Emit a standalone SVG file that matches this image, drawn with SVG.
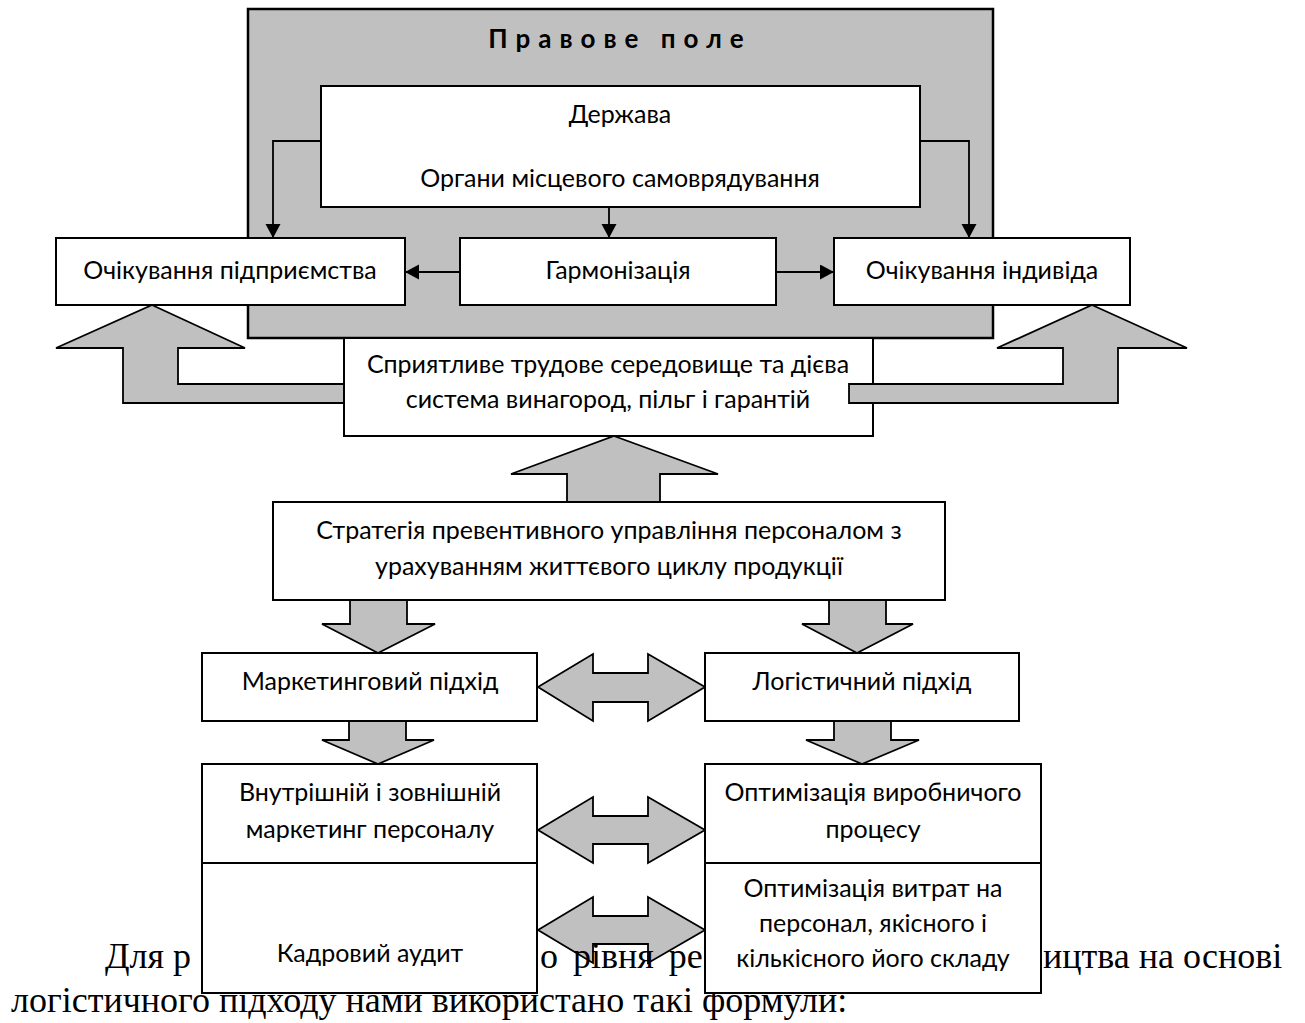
<svg xmlns="http://www.w3.org/2000/svg" width="1305" height="1023" viewBox="0 0 1305 1023">
<style>
.bg{fill:#ffffff}
.field{fill:#c0c0c0;stroke:#000;stroke-width:2.5}
.box{fill:#fff;stroke:#000;stroke-width:2}
.big{fill:#c0c0c0;stroke:#000;stroke-width:1.8;stroke-linejoin:miter}
.con{fill:none;stroke:#000;stroke-width:1.8}
.t{font-family:Lato,"Liberation Sans",sans-serif;font-size:25px;fill:#000;text-anchor:middle}
.title{font-family:Lato,"Liberation Sans",sans-serif;font-size:26px;font-weight:bold;letter-spacing:8px;fill:#000;text-anchor:middle}
.p{font-family:"Liberation Serif","Times New Roman",serif;font-size:36px;fill:#000}
</style>
<defs>
<marker id="ah" markerUnits="userSpaceOnUse" markerWidth="16" markerHeight="16" refX="14" refY="7.5" orient="auto">
<path d="M0,0 L14,7.5 L0,15 z" fill="#000"/>
</marker>
</defs>
<rect class="bg" x="0" y="0" width="1305" height="1023"/>

<g id="pravove-pole">
<rect class="field" x="248" y="9" width="745" height="329"/>
<text class="title" x="620" y="48">Правове поле</text>
</g>

<g id="derzhava">
<rect class="box" x="321" y="86" width="599" height="121"/>
<text class="t" x="620" y="123">Держава</text>
<text class="t" x="620" y="187">Органи місцевого самоврядування</text>
</g>

<g id="ochikuvannia-pidpryiemstva">
<rect class="box" x="56" y="238" width="349" height="67"/>
<text class="t" x="230" y="279">Очікування підприємства</text>
</g>

<g id="harmonizatsiia">
<rect class="box" x="460" y="238" width="316" height="67"/>
<text class="t" x="618" y="279">Гармонізація</text>
</g>

<g id="ochikuvannia-indyvida">
<rect class="box" x="834" y="238" width="296" height="67"/>
<text class="t" x="982" y="279">Очікування індивіда</text>
</g>

<g id="connectors">
<polyline class="con" points="321,141 273,141 273,238" marker-end="url(#ah)"/>
<polyline class="con" points="920,141 969,141 969,238" marker-end="url(#ah)"/>
<line class="con" x1="609" y1="207" x2="609" y2="238" marker-end="url(#ah)"/>
<line class="con" x1="460" y1="272" x2="405" y2="272" marker-end="url(#ah)"/>
<line class="con" x1="776" y1="272" x2="834" y2="272" marker-end="url(#ah)"/>
<polygon id="arrow-left-up" class="big" points="152,305 245,348 178,348 178,384 344,384 344,403 123,403 123,348 56,348"/>
</g>

<g id="spryiatlyve">
<rect class="box" x="344" y="338" width="529" height="98"/>
<text class="t" x="608" y="373">Сприятливе трудове середовище та дієва</text>
<text class="t" x="608" y="408">система винагород, пільг і гарантій</text>
</g>

<g id="connectors-2">
<polygon id="arrow-right-up" class="big" points="1092,305 1187,348 1118,348 1118,403 849,403 849,384 1063,384 1063,348 997,348"/>
<polygon id="arrow-center-up" class="big" points="614,436 718,474 660,474 660,502 567,502 567,474 511,474"/>
<polygon class="big" points="350,600 407,600 407,624 435,624 378,653 322,624 350,624"/>
<polygon class="big" points="829,600 886,600 886,624 913,624 857,653 802,624 829,624"/>
<polygon class="big" points="349,721 406,721 406,740 434,740 378,764 322,740 349,740"/>
<polygon class="big" points="834,721 891,721 891,740 919,740 862,764 806,740 834,740"/>
<polygon class="big" points="538,687 593,654 593,673 648,673 648,654 705,687 648,721 648,702 593,702 593,721"/>
<polygon class="big" points="538,830 593,797 593,816 648,816 648,797 705,830 648,863 648,844 593,844 593,863"/>
<polygon class="big" points="538,930 593,897 593,916 648,916 648,897 705,930 648,963 648,944 593,944 593,963"/>
</g>

<g id="stratehiia">
<rect class="box" x="273" y="502" width="672" height="98"/>
<text class="t" x="609" y="539">Стратегія превентивного управління персоналом з</text>
<text class="t" x="609" y="575">урахуванням життєвого циклу продукції</text>
</g>

<g id="marketynhovyi">
<rect class="box" x="202" y="653" width="335" height="68"/>
<text class="t" x="370" y="690">Маркетинговий підхід</text>
</g>

<g id="lohistychnyi">
<rect class="box" x="705" y="653" width="314" height="68"/>
<text class="t" x="862" y="690">Логістичний підхід</text>
</g>

<g id="paragraph">
<text class="p" x="105" y="968">Для р</text>
<text class="p" x="540" y="968" word-spacing="6">о рівня ре</text>
<text class="p" x="1043" y="968">ицтва на основі</text>
<text class="p" x="11" y="1012">логістичного підходу нами використано такі формули:</text>
</g>

<g id="marketynh-personalu">
<rect class="box" x="202" y="764" width="335" height="99"/>
<text class="t" x="370" y="801">Внутрішній і зовнішній</text>
<text class="t" x="370" y="838">маркетинг персоналу</text>
</g>

<g id="kadrovyi-audyt">
<rect class="box" x="202" y="863" width="335" height="130"/>
<text class="t" x="370" y="962">Кадровий аудит</text>
</g>

<g id="optymizatsiia-protsesu">
<rect class="box" x="705" y="764" width="336" height="99"/>
<text class="t" x="873" y="801">Оптимізація виробничого</text>
<text class="t" x="873" y="838">процесу</text>
</g>

<g id="optymizatsiia-vytrat">
<rect class="box" x="705" y="863" width="336" height="130"/>
<text class="t" x="873" y="897">Оптимізація витрат на</text>
<text class="t" x="873" y="932">персонал, якісного і</text>
<text class="t" x="873" y="967">кількісного його складу</text>
</g>
</svg>
